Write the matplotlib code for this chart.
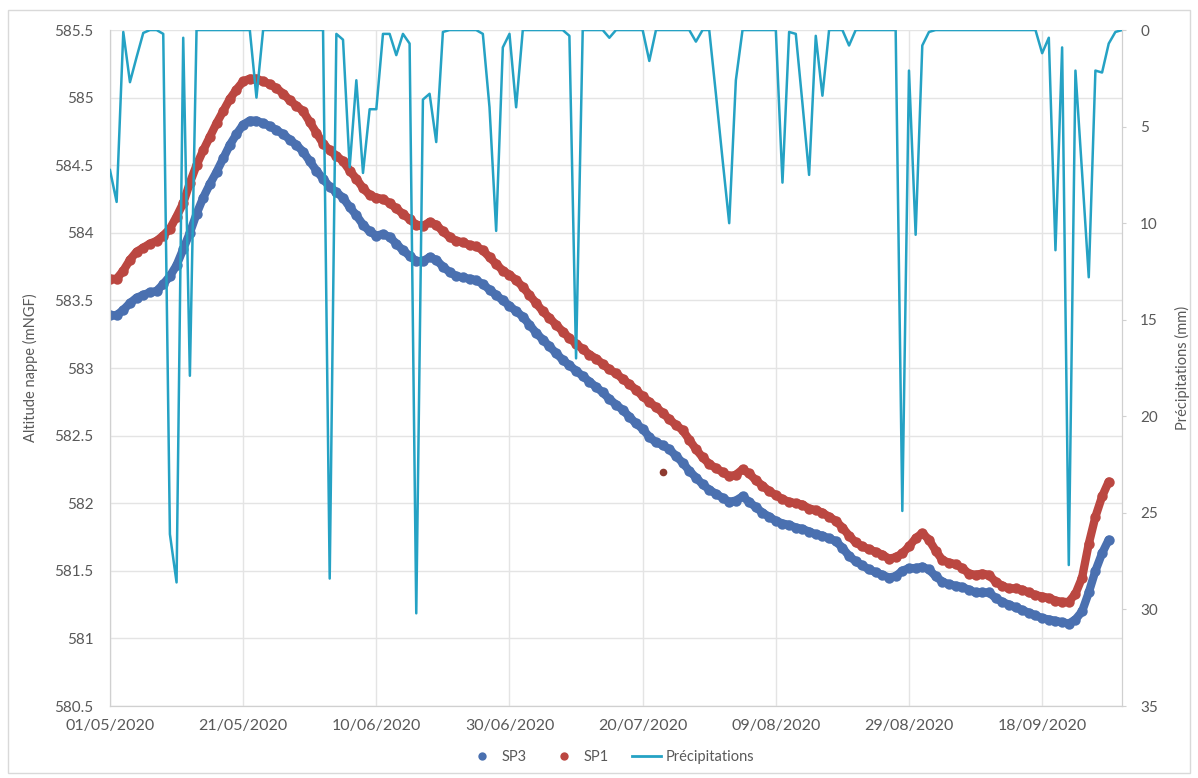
import numpy as np
import pandas as pd
import matplotlib
matplotlib.use("Agg")
import matplotlib.pyplot as plt
import matplotlib.dates as mdates
from matplotlib.lines import Line2D
from matplotlib.patches import Rectangle

# --- data (daily, starting 01/05/2020) ---
start_date = "2020-05-01"

sp1 = [
    583.66, 583.66, 583.72, 583.80, 583.86, 583.89, 583.92, 583.94, 583.98, 584.03,
    584.12, 584.22, 584.37, 584.50, 584.61, 584.71, 584.81, 584.90, 584.99, 585.06,
    585.12, 585.14, 585.14, 585.12, 585.10, 585.07, 585.03, 584.98, 584.94, 584.90,
    584.82, 584.74, 584.66, 584.61, 584.57, 584.53, 584.46, 584.40, 584.33, 584.28,
    584.26, 584.25, 584.22, 584.18, 584.14, 584.10, 584.06, 584.05, 584.08, 584.06,
    584.01, 583.97, 583.94, 583.93, 583.91, 583.90, 583.87, 583.82, 583.77, 583.72,
    583.69, 583.65, 583.60, 583.54, 583.48, 583.42, 583.37, 583.32, 583.27, 583.22,
    583.18, 583.14, 583.10, 583.07, 583.03, 582.99, 582.96, 582.92, 582.88, 582.84,
    582.79, 582.75, 582.71, 582.67, 582.62, 582.58, 582.54, 582.47, 582.40, 582.34,
    582.29, 582.26, 582.23, 582.20, 582.21, 582.25, 582.22, 582.17, 582.13, 582.09,
    582.06, 582.03, 582.01, 582.00, 581.99, 581.96, 581.95, 581.93, 581.90, 581.87,
    581.82, 581.76, 581.71, 581.68, 581.66, 581.64, 581.62, 581.59, 581.60, 581.63,
    581.68, 581.74, 581.78, 581.73, 581.65, 581.58, 581.56, 581.55, 581.52, 581.48,
    581.47, 581.48, 581.47, 581.42, 581.39, 581.37, 581.37, 581.36, 581.34, 581.32,
    581.31, 581.30, 581.28, 581.27, 581.27, 581.33, 581.45, 581.70, 581.90, 582.05,
    582.16,
]

sp3 = [
    583.39, 583.39, 583.43, 583.48, 583.52, 583.54, 583.56, 583.57, 583.62, 583.68,
    583.76, 583.88, 584.00, 584.14, 584.26, 584.36, 584.45, 584.55, 584.65, 584.73,
    584.80, 584.83, 584.83, 584.81, 584.79, 584.76, 584.73, 584.69, 584.65, 584.60,
    584.53, 584.46, 584.40, 584.34, 584.30, 584.26, 584.19, 584.13, 584.06, 584.01,
    583.98, 583.99, 583.97, 583.92, 583.87, 583.83, 583.79, 583.79, 583.82, 583.80,
    583.75, 583.71, 583.68, 583.67, 583.66, 583.65, 583.62, 583.58, 583.54, 583.50,
    583.46, 583.42, 583.38, 583.32, 583.26, 583.21, 583.16, 583.11, 583.06, 583.02,
    582.98, 582.94, 582.90, 582.86, 582.82, 582.77, 582.73, 582.69, 582.64, 582.59,
    582.55, 582.49, 582.45, 582.43, 582.40, 582.35, 582.30, 582.24, 582.19, 582.14,
    582.10, 582.07, 582.04, 582.01, 582.02, 582.05, 582.01, 581.97, 581.93, 581.90,
    581.87, 581.85, 581.84, 581.82, 581.81, 581.79, 581.77, 581.76, 581.74, 581.72,
    581.67, 581.61, 581.57, 581.54, 581.51, 581.49, 581.47, 581.45, 581.46, 581.50,
    581.52, 581.52, 581.53, 581.51, 581.46, 581.42, 581.40, 581.39, 581.38, 581.36,
    581.34, 581.34, 581.34, 581.30, 581.27, 581.25, 581.23, 581.21, 581.19, 581.17,
    581.15, 581.14, 581.13, 581.12, 581.11, 581.14, 581.20, 581.34, 581.50, 581.63,
    581.73,
]

# single stray SP1 reading
sp1_outlier_date = "2020-07-23"
sp1_outlier_value = 582.23

precip = [
    7.25, 8.9, 0.1, 2.7, 1.4, 0.15, 0, 0, 0.2, 26.1,
    28.6, 0.4, 17.9, 0, 0, 0, 0, 0, 0, 0,
    0, 0, 3.5, 0, 0, 0, 0, 0, 0, 0,
    0, 0, 0, 28.4, 0.2, 0.5, 7.1, 2.6, 7.4, 4.1,
    4.1, 0.2, 0.2, 1.3, 0.2, 0.7, 30.2, 3.6, 3.3, 5.8,
    0.1, 0, 0, 0, 0, 0, 0.2, 4.0, 10.4, 0.9,
    0.2, 4.0, 0, 0, 0, 0, 0, 0, 0, 0.3,
    17.0, 0, 0, 0, 0, 0.4, 0, 0, 0, 0,
    0, 1.6, 0, 0, 0, 0, 0, 0, 0.6, 0,
    0, 3.3, 6.7, 10.0, 2.6, 0, 0, 0, 0, 0,
    0, 7.9, 0.1, 0.2, 3.8, 7.5, 0.3, 3.4, 0, 0,
    0, 0.8, 0, 0, 0, 0, 0, 0, 0, 24.9,
    2.1, 10.6, 0.8, 0.1, 0, 0, 0, 0, 0, 0,
    0, 0, 0, 0, 0, 0, 0, 0, 0, 0,
    1.2, 0.4, 11.4, 0.9, 27.7, 2.1, 7.4, 12.8, 2.1, 2.2,
    0.7, 0.1, 0,
]

tick_dates = ["2020-05-01", "2020-05-21", "2020-06-10", "2020-06-30",
              "2020-07-20", "2020-08-09", "2020-08-29", "2020-09-18"]

c_sp3 = "#4a70b0"
c_sp1 = "#bb4741"
c_rain = "#25a2c4"
c_text = "#595959"
c_grid = "#e4e4e4"

plt.rcParams["font.family"] = ["Lato", "DejaVu Sans"]

days_sp = pd.date_range(start_date, periods=len(sp1), freq="D")
days_rain = pd.date_range(start_date, periods=len(precip), freq="D")

fig = plt.figure(figsize=(11.98, 7.78), dpi=100)
fig.patches.append(Rectangle((0.007, 0.006), 0.986, 0.981, transform=fig.transFigure,
                             fill=False, edgecolor="#d9d9d9", lw=1.0))

ax = fig.add_axes([0.0918, 0.0925, 0.8448, 0.8689])

ax.plot(days_sp, sp3, "-", color=c_sp3, lw=6, zorder=3, solid_capstyle="round")
ax.plot(days_sp, sp3, "o", color=c_sp3, ms=7.5, mew=0, zorder=3)
ax.plot(days_sp, sp1, "-", color=c_sp1, lw=6, zorder=4, solid_capstyle="round")
ax.plot(days_sp, sp1, "o", color=c_sp1, ms=7.5, mew=0, zorder=4)
ax.plot(pd.to_datetime([sp1_outlier_date]), [sp1_outlier_value], "o",
        color="#8e3a30", ms=5.5, mew=0, zorder=4)

ax.set_ylim(580.5, 585.5)
ax.set_yticks(np.arange(580.5, 585.51, 0.5))
ax.set_yticklabels([f"{v:g}" for v in np.arange(580.5, 585.51, 0.5)])
ax.set_xlim(pd.Timestamp(start_date), pd.Timestamp(start_date) + pd.Timedelta(days=152))
ax.set_xticks(pd.to_datetime(tick_dates))
ax.xaxis.set_major_formatter(mdates.DateFormatter("%d/%m/%Y"))

ax.grid(True, color=c_grid, lw=1.0)
ax.set_axisbelow(True)
ax.spines["top"].set_visible(False)
for side in ("left", "bottom", "right"):
    ax.spines[side].set_color("#d0d0d0")
ax.tick_params(axis="y", length=0, pad=12, labelsize=11, labelcolor=c_text)
ax.tick_params(axis="x", length=0, pad=9, labelsize=11.5, labelcolor=c_text)
ax.set_ylabel("Altitude nappe (mNGF)", color=c_text, fontsize=10.5, labelpad=12)

ax2 = ax.twinx()
ax2.plot(days_rain, precip, "-", color=c_rain, lw=1.8, zorder=5)
ax2.set_ylim(35, 0)
ax2.set_yticks(np.arange(0, 36, 5))
ax2.tick_params(axis="y", length=3, color="#d0d0d0", pad=10, labelsize=11, labelcolor=c_text)
ax2.spines["top"].set_visible(False)
for side in ("left", "bottom", "right"):
    ax2.spines[side].set_color("#d0d0d0")
ax2.set_ylabel("Précipitations (mm)", color=c_text, fontsize=10.5, labelpad=12)

handles = [
    Line2D([], [], ls="none", marker="o", ms=6, color=c_sp3, mew=0),
    Line2D([], [], ls="none", marker="o", ms=6, color=c_sp1, mew=0),
    Line2D([], [], color=c_rain, lw=2),
]
fig.legend(handles, ["SP3", "SP1", "Précipitations"], loc="center",
           bbox_to_anchor=(0.51, 0.027), ncol=3, frameon=False, fontsize=10.5,
           labelcolor=c_text, handlelength=2.0, columnspacing=1.6, handletextpad=0.3)

fig.savefig("out.png", dpi=100, facecolor="white")
